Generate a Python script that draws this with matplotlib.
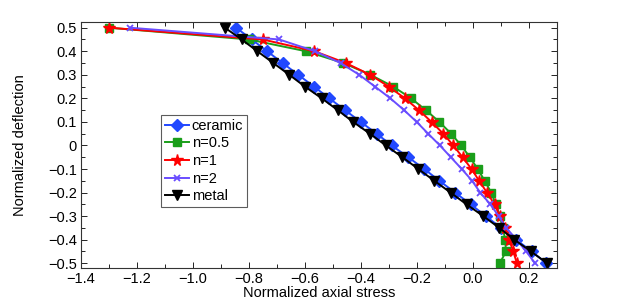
import numpy as np
import matplotlib
matplotlib.use("Agg")
import matplotlib.pyplot as plt
from matplotlib.ticker import MultipleLocator

plt.rcParams['font.family'] = ['Liberation Sans', 'DejaVu Sans']

# normalized deflection levels (shared by all curves)
defl = [0.5, 0.45, 0.4, 0.35, 0.3, 0.25, 0.2, 0.15, 0.1, 0.05, 0.0,
        -0.05, -0.1, -0.15, -0.2, -0.25, -0.3, -0.35, -0.4, -0.45, -0.5]

ceramic = [-0.846, -0.79, -0.735, -0.68, -0.624, -0.568, -0.513, -0.457, -0.401, -0.344, -0.29,
           -0.231, -0.174, -0.12, -0.064, -0.008, 0.046, 0.1, 0.154, 0.21, 0.262]
metal = [-0.886, -0.826, -0.77, -0.713, -0.656, -0.6, -0.54, -0.483, -0.428, -0.368, -0.311,
         -0.252, -0.195, -0.138, -0.08, -0.023, 0.037, 0.094, 0.148, 0.207, 0.265]
n05 = [-1.3, -0.80, -0.596, -0.463, -0.366, -0.285, -0.221, -0.168, -0.12, -0.078, -0.042,
       -0.011, 0.017, 0.042, 0.065, 0.082, 0.096, 0.107, 0.115, 0.118, 0.096]
n1 = [-1.3, -0.751, -0.566, -0.454, -0.367, -0.301, -0.243, -0.193, -0.148, -0.106, -0.07,
      -0.037, -0.005, 0.022, 0.05, 0.077, 0.096, 0.114, 0.129, 0.144, 0.157]
n2 = [-1.225, -0.692, -0.564, -0.473, -0.406, -0.35, -0.295, -0.246, -0.201, -0.16, -0.118,
      -0.079, -0.04, -0.003, 0.026, 0.062, 0.092, 0.119, 0.156, 0.19, 0.222]

fig = plt.figure(figsize=(6.2, 3.02), dpi=100)
ax = fig.add_axes([0.1306, 0.1136, 0.7677, 0.8126])

ax.plot(ceramic, defl, '-D', color='#2148ff', lw=1.4, ms=6, label='ceramic')
ax.plot(n05, defl, '-s', color='#1a9e1a', lw=1.4, ms=5.5, label='n=0.5')
ax.plot(n1, defl, '-*', color='#ff0000', lw=1.4, ms=8.5, label='n=1')
ax.plot(n2, defl, '-x', color='#6a4dff', lw=1.4, ms=5, mew=1.3, label='n=2')
ax.plot(metal, defl, '-v', color='black', lw=1.4, ms=7, label='metal')

ax.set_xlim(-1.4, 0.3)
ax.set_ylim(-0.519, 0.523)
ax.set_xticks([-1.4, -1.2, -1.0, -0.8, -0.6, -0.4, -0.2, 0.0, 0.2])
ax.set_xticklabels(['\u22121.4', '\u22121.2', '\u22121.0', '\u22120.8', '\u22120.6',
                    '\u22120.4', '\u22120.2', '0.0', '0.2'])
ax.xaxis.set_minor_locator(MultipleLocator(0.1))
yt = [0.5, 0.4, 0.3, 0.2, 0.1, 0.0, -0.1, -0.2, -0.3, -0.4, -0.5]
ax.set_yticks(yt)
ax.set_yticklabels(['0.5', '0.4', '0.3', '0.2', '0.1', '0',
                    '\u22120.1', '\u22120.2', '\u22120.3', '\u22120.4', '\u22120.5'])
ax.yaxis.set_minor_locator(MultipleLocator(0.05))
ax.tick_params(which='both', direction='in', top=True, right=True, labelsize=10.5)
ax.tick_params(which='major', length=4, width=0.6, pad=3)
ax.tick_params(which='minor', length=3, width=0.6)
for s in ax.spines.values():
    s.set_linewidth(0.8)
    s.set_color('#333333')

ax.set_xlabel('Normalized axial stress', fontsize=10.5, labelpad=0)
ax.set_ylabel('Normalized deflection', fontsize=10.5, labelpad=15)

leg = ax.legend(loc='upper left', bbox_to_anchor=(0.168, 0.622), fontsize=10.5,
                fancybox=False, edgecolor='#333333', handlelength=1.7,
                handletextpad=0.15, borderpad=0.25, labelspacing=0.25, borderaxespad=0)
leg.get_frame().set_linewidth(0.8)

fig.savefig('out.png', dpi=100)
